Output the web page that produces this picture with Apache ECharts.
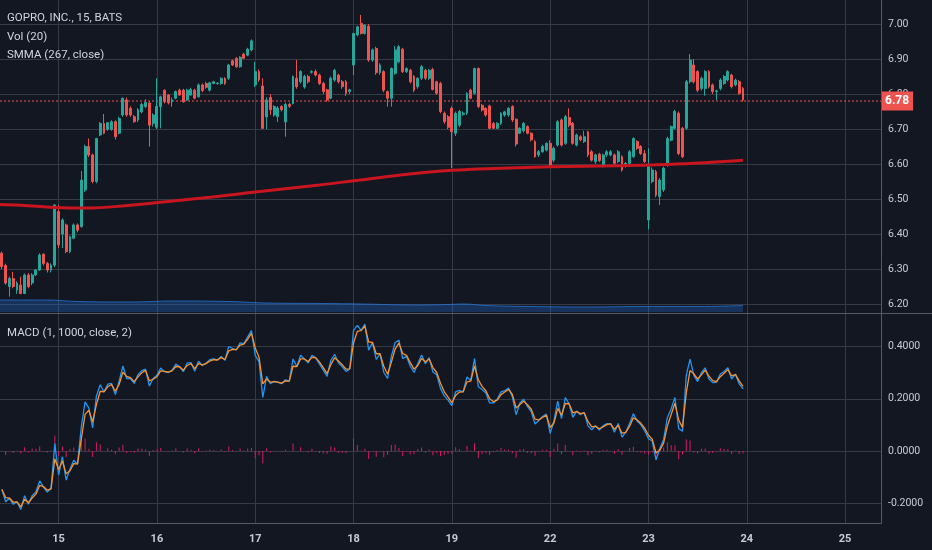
<!DOCTYPE html>
<html><head><meta charset="utf-8">
<script src="https://cdn.jsdelivr.net/npm/echarts@6/dist/echarts.min.js"></script>
<style>html,body{margin:0;padding:0;background:#131722;}#c{width:932px;height:550px;}</style>
</head><body><div id="c"></div>
<script>
// ---------- data ----------
const dayLabels  = ['14','15','16','17','18','19','22','23','24','25'];
const barsPerDay = [15, 26, 26, 26, 26, 26, 26, 26, 26, 10];   // 15-minute bars (24, 25 = empty future)

// [open, close, low, high]
const ohlc = [
  // 14
  [6.345,6.307,6.300,6.350],[6.310,6.260,6.255,6.315],[6.250,6.273,6.221,6.278],[6.273,6.250,6.245,6.292],
  [6.240,6.260,6.229,6.265],[6.254,6.230,6.228,6.278],[6.230,6.283,6.228,6.287],[6.283,6.250,6.245,6.288],
  [6.260,6.283,6.254,6.288],[6.283,6.297,6.280,6.300],[6.297,6.340,6.294,6.345],[6.342,6.316,6.310,6.345],
  [6.316,6.297,6.290,6.320],[6.297,6.311,6.290,6.316],[6.311,6.483,6.305,6.485],
  // 15
  [6.464,6.369,6.360,6.483],[6.400,6.440,6.360,6.445],[6.426,6.350,6.345,6.430],[6.350,6.392,6.345,6.395],
  [6.388,6.426,6.385,6.430],[6.426,6.411,6.405,6.430],[6.421,6.554,6.418,6.580],[6.526,6.650,6.520,6.655],
  [6.650,6.626,6.620,6.673],[6.626,6.550,6.545,6.630],[6.550,6.673,6.545,6.675],[6.683,6.716,6.680,6.720],
  [6.716,6.688,6.685,6.743],[6.699,6.718,6.695,6.720],[6.699,6.721,6.695,6.725],[6.721,6.678,6.670,6.725],
  [6.688,6.730,6.685,6.735],[6.740,6.788,6.735,6.790],[6.783,6.740,6.735,6.790],[6.759,6.740,6.735,6.765],
  [6.735,6.721,6.718,6.740],[6.726,6.755,6.720,6.760],[6.749,6.770,6.745,6.775],[6.764,6.776,6.760,6.785],
  [6.774,6.711,6.650,6.780],[6.716,6.740,6.707,6.745],
  // 16
  [6.705,6.764,6.700,6.845],[6.764,6.792,6.702,6.795],[6.811,6.778,6.773,6.813],[6.797,6.775,6.770,6.800],
  [6.778,6.783,6.764,6.790],[6.788,6.807,6.785,6.810],[6.811,6.797,6.795,6.815],[6.811,6.778,6.775,6.815],
  [6.783,6.811,6.780,6.815],[6.797,6.813,6.795,6.818],[6.811,6.788,6.785,6.815],[6.792,6.826,6.790,6.830],
  [6.826,6.810,6.805,6.830],[6.830,6.819,6.815,6.835],[6.811,6.832,6.807,6.835],[6.830,6.835,6.828,6.838],
  [6.830,6.831,6.826,6.834],[6.830,6.845,6.826,6.848],[6.845,6.830,6.826,6.848],[6.845,6.883,6.840,6.886],
  [6.895,6.883,6.880,6.898],[6.902,6.878,6.875,6.905],[6.878,6.905,6.875,6.908],[6.914,6.902,6.900,6.918],
  [6.911,6.928,6.908,6.932],[6.926,6.952,6.922,6.956],
  // 17
  [6.826,6.864,6.820,6.892],[6.864,6.840,6.835,6.870],[6.823,6.702,6.700,6.845],[6.735,6.783,6.700,6.790],
  [6.790,6.755,6.740,6.800],[6.740,6.764,6.735,6.768],[6.735,6.760,6.720,6.765],[6.764,6.755,6.750,6.768],
  [6.720,6.770,6.678,6.775],[6.770,6.765,6.760,6.775],[6.773,6.850,6.770,6.853],[6.845,6.821,6.815,6.897],
  [6.835,6.864,6.830,6.868],[6.820,6.850,6.815,6.855],[6.850,6.835,6.830,6.855],[6.862,6.864,6.858,6.868],
  [6.864,6.854,6.850,6.870],[6.854,6.830,6.826,6.858],[6.830,6.807,6.800,6.835],[6.812,6.783,6.778,6.815],
  [6.788,6.845,6.785,6.850],[6.840,6.868,6.835,6.872],[6.854,6.835,6.830,6.858],[6.835,6.821,6.815,6.840],
  [6.835,6.802,6.795,6.840],[6.807,6.812,6.800,6.815],
  // 18
  [6.883,6.973,6.854,6.975],[6.969,6.992,6.965,6.995],[7.002,6.973,6.970,7.026],[6.973,6.997,6.970,7.000],
  [6.994,6.897,6.892,7.000],[6.897,6.926,6.892,6.930],[6.930,6.861,6.855,6.935],[6.861,6.883,6.855,6.888],
  [6.864,6.811,6.805,6.868],[6.807,6.788,6.764,6.810],[6.788,6.873,6.764,6.876],[6.859,6.926,6.855,6.937],
  [6.892,6.935,6.888,6.940],[6.928,6.864,6.860,6.932],[6.864,6.873,6.860,6.876],[6.868,6.835,6.830,6.872],
  [6.850,6.811,6.805,6.854],[6.821,6.845,6.815,6.848],[6.845,6.878,6.840,6.883],[6.868,6.845,6.840,6.872],
  [6.845,6.868,6.840,6.872],[6.870,6.813,6.810,6.875],[6.835,6.802,6.798,6.838],[6.830,6.750,6.745,6.835],
  [6.745,6.721,6.715,6.750],[6.735,6.705,6.700,6.740],
  // 19
  [6.759,6.692,6.588,6.765],[6.688,6.745,6.680,6.750],[6.711,6.750,6.705,6.755],[6.742,6.745,6.738,6.750],
  [6.745,6.802,6.740,6.805],[6.811,6.788,6.785,6.815],[6.802,6.873,6.798,6.875],[6.873,6.764,6.760,6.876],
  [6.768,6.754,6.750,6.772],[6.759,6.740,6.735,6.762],[6.766,6.702,6.700,6.770],[6.716,6.702,6.700,6.720],
  [6.702,6.716,6.700,6.720],[6.716,6.745,6.712,6.748],[6.740,6.749,6.735,6.752],[6.740,6.759,6.735,6.762],
  [6.764,6.726,6.720,6.768],[6.728,6.657,6.650,6.730],[6.688,6.702,6.685,6.705],[6.695,6.716,6.690,6.720],
  [6.707,6.688,6.685,6.710],[6.688,6.669,6.665,6.690],[6.664,6.621,6.618,6.668],[6.626,6.635,6.620,6.640],
  [6.635,6.650,6.632,6.655],[6.640,6.659,6.636,6.662],
  // 22
  [6.659,6.597,6.592,6.668],[6.611,6.645,6.605,6.650],[6.654,6.721,6.650,6.725],[6.726,6.654,6.650,6.730],
  [6.659,6.735,6.655,6.740],[6.733,6.711,6.705,6.759],[6.716,6.659,6.655,6.720],[6.654,6.683,6.650,6.687],
  [6.678,6.669,6.665,6.682],[6.664,6.678,6.660,6.695],[6.692,6.626,6.620,6.695],[6.635,6.611,6.607,6.640],
  [6.607,6.626,6.600,6.630],[6.628,6.610,6.605,6.632],[6.597,6.626,6.590,6.630],[6.626,6.635,6.620,6.640],
  [6.626,6.635,6.622,6.640],[6.626,6.602,6.598,6.630],[6.607,6.635,6.602,6.640],[6.621,6.583,6.578,6.625],
  [6.594,6.602,6.590,6.606],[6.602,6.635,6.598,6.640],[6.621,6.673,6.618,6.676],[6.664,6.645,6.640,6.668],
  [6.650,6.630,6.626,6.654],[6.630,6.607,6.603,6.640],
  // 23
  [6.440,6.592,6.413,6.645],[6.550,6.583,6.545,6.590],[6.578,6.511,6.505,6.583],[6.507,6.554,6.483,6.560],
  [6.526,6.588,6.520,6.592],[6.597,6.673,6.592,6.678],[6.668,6.707,6.665,6.710],[6.702,6.750,6.698,6.755],
  [6.745,6.630,6.625,6.750],[6.702,6.621,6.617,6.706],[6.702,6.835,6.698,6.840],[6.835,6.897,6.830,6.914],
  [6.883,6.835,6.830,6.900],[6.864,6.811,6.805,6.868],[6.816,6.845,6.810,6.850],[6.816,6.864,6.795,6.868],
  [6.864,6.821,6.816,6.868],[6.826,6.807,6.800,6.830],[6.807,6.809,6.783,6.812],[6.816,6.840,6.810,6.845],
  [6.830,6.850,6.826,6.854],[6.840,6.864,6.836,6.868],[6.854,6.821,6.816,6.858],[6.826,6.840,6.822,6.844],
  [6.835,6.802,6.798,6.840],[6.816,6.783,6.778,6.820]
];

const macdLine = [
  -0.148,-0.195,-0.182,-0.205,-0.195,-0.225,-0.172,-0.205,-0.172,-0.158,-0.115,-0.139,-0.158,-0.144,0.028,
  -0.093,-0.022,-0.112,-0.070,-0.036,-0.051,0.092,0.188,0.164,0.088,0.211,0.254,0.226,0.256,0.259,0.216,0.268,0.326,0.278,0.278,0.259,0.293,0.308,0.314,0.249,0.278,
  0.290,0.318,0.304,0.301,0.309,0.333,0.323,0.304,0.337,0.339,0.306,0.344,0.328,0.337,0.350,0.353,0.349,0.363,0.348,0.401,0.393,0.388,0.415,0.412,0.438,0.462,
  0.367,0.343,0.205,0.286,0.258,0.267,0.263,0.258,0.273,0.268,0.353,0.324,0.367,0.353,0.338,0.367,0.357,0.333,0.310,0.286,0.348,0.371,0.338,0.324,0.305,0.315,
  0.463,0.482,0.463,0.487,0.387,0.416,0.351,0.373,0.301,0.278,0.363,0.416,0.425,0.354,0.363,0.325,0.301,0.335,0.368,0.335,0.358,0.303,0.292,0.240,0.211,0.195,
  0.174,0.227,0.232,0.227,0.284,0.270,0.355,0.246,0.236,0.222,0.184,0.184,0.198,0.227,0.231,0.241,0.208,0.139,0.184,0.198,0.170,0.151,0.103,0.117,0.132,0.141,
  0.067,0.115,0.191,0.124,0.205,0.181,0.129,0.153,0.139,0.148,0.096,0.081,0.096,0.080,0.096,0.105,0.105,0.072,0.105,0.053,0.072,0.105,0.143,0.115,0.100,0.077,
  0.047,0.038,-0.034,0.009,0.043,0.128,0.162,0.205,0.085,0.076,0.290,0.352,0.290,0.266,0.300,0.319,0.276,0.262,0.264,0.295,0.305,0.319,0.276,0.295,0.257,0.238
];

const signalLine = [
  -0.148,-0.179,-0.181,-0.197,-0.196,-0.215,-0.186,-0.199,-0.181,-0.166,-0.132,-0.137,-0.151,-0.146,-0.030,
  -0.072,-0.039,-0.088,-0.076,-0.049,-0.050,0.045,0.140,0.156,0.111,0.178,0.229,0.227,0.246,0.255,0.229,0.255,0.302,0.286,0.281,0.266,0.284,0.300,0.309,0.269,0.275,
  0.285,0.307,0.305,0.302,0.307,0.324,0.323,0.310,0.328,0.335,0.316,0.335,0.330,0.335,0.345,0.350,0.349,0.358,0.351,0.384,0.390,0.389,0.406,0.410,0.429,0.451,
  0.395,0.360,0.257,0.276,0.264,0.266,0.264,0.260,0.269,0.268,0.325,0.324,0.353,0.353,0.343,0.359,0.358,0.341,0.320,0.297,0.331,0.358,0.345,0.331,0.314,0.315,
  0.414,0.459,0.462,0.479,0.418,0.417,0.373,0.373,0.325,0.294,0.340,0.391,0.414,0.374,0.367,0.339,0.314,0.328,0.355,0.342,0.353,0.320,0.301,0.260,0.227,0.206,
  0.185,0.213,0.226,0.227,0.265,0.268,0.326,0.273,0.248,0.231,0.200,0.189,0.195,0.216,0.226,0.236,0.217,0.165,0.178,0.191,0.177,0.160,0.122,0.119,0.128,0.137,
  0.090,0.107,0.163,0.137,0.182,0.181,0.146,0.151,0.143,0.146,0.113,0.092,0.095,0.085,0.092,0.101,0.104,0.083,0.098,0.068,0.071,0.094,0.127,0.119,0.106,0.087,
  0.060,0.045,-0.008,0.003,0.030,0.095,0.140,0.183,0.118,0.090,0.223,0.309,0.296,0.276,0.292,0.310,0.287,0.270,0.266,0.285,0.298,0.312,0.288,0.293,0.269,0.248
];

const histogram = [
  0,-0.016,-0.001,-0.008,0.001,-0.010,0.014,-0.006,0.009,0.008,0.017,-0.002,-0.007,0.002,0.058,
  -0.021,0.017,-0.024,0.006,0.013,-0.001,0.047,0.048,0.008,-0.023,0.033,0.025,-0.001,0.010,0.004,-0.013,0.013,0.024,-0.008,-0.003,-0.007,0.009,0.008,0.005,-0.020,0.003,
  0.005,0.011,-0.001,-0.001,0.002,0.009,0,-0.006,0.009,0.004,-0.010,0.009,-0.002,0.002,0.005,0.003,0,0.005,-0.003,0.017,0.003,-0.001,0.009,0.002,0.009,0.011,
  -0.028,-0.017,-0.048,0.010,-0.006,0.001,-0.001,-0.002,0.004,0,0.028,0,0.014,0,-0.005,0.008,-0.001,-0.008,-0.010,-0.011,0.017,0.013,-0.007,-0.007,-0.009,0,
  0.049,0.023,0.001,0.008,-0.031,-0.001,-0.022,0,-0.024,-0.016,0.023,0.025,0.011,-0.020,-0.004,-0.014,-0.013,0.007,0.013,-0.007,0.005,-0.017,-0.009,-0.020,-0.016,-0.011,
  -0.011,0.014,0.006,0,0.019,0.002,0.029,-0.027,-0.012,-0.009,-0.016,-0.005,0.003,0.011,0.005,0.005,-0.009,-0.026,0.006,0.007,-0.007,-0.009,-0.019,-0.002,0.004,0.004,
  -0.023,0.008,0.028,-0.013,0.023,0,-0.017,0.002,-0.004,0.002,-0.017,-0.011,0.001,-0.005,0.004,0.004,0.001,-0.011,0.007,-0.015,0.001,0.011,0.016,-0.004,-0.006,-0.010,
  -0.013,-0.007,-0.026,0.006,0.013,0.033,0.022,0.022,-0.033,-0.014,0.045,0.040,-0.006,-0.010,0.008,0.009,-0.011,-0.008,-0.002,0.010,0.007,0.007,-0.012,0.002,-0.012,-0.010
];

// SMMA (267, close): [bar index, value]
const smmaPoints = [
  [-0.5,6.484],[5,6.482],[14,6.476],[22,6.474],[34,6.482],[42,6.491],[55,6.505],[67,6.520],
  [84,6.540],[93,6.552],[105,6.568],[119,6.582],[132,6.588],[145,6.592],[163,6.595],[171,6.597],
  [183,6.602],[196,6.611]
];
// Vol (20) moving-average band: [bar index, value]
const volMaPoints = [
  [-0.5,12],[12,12],[20,10.5],[34,10],[45,11],[60,10.5],[70,9],[85,8.5],[95,8],[110,7],
  [118,7.5],[122,8],[128,6.5],[140,5.5],[155,5],[170,5.5],[185,5.5],[196,6.5]
];
const lastPrice = 6.78;
const priceRange = [6.1743, 7.0686];
const macdRange = [-0.2768, 0.5294];

// ---------- build ----------
const categories = [];
const dayStarts = new Set();
dayLabels.forEach((d, i) => {
  dayStarts.add(categories.length);
  for (let j = 0; j < barsPerDay[i]; j++) categories.push(d + '|' + j);
});
const isDayLine = (idx) => idx > 0 && dayStarts.has(idx);
const N = categories.length;

const BG = '#131722', GRID = '#363a45', AXIS = '#565a65', TXT = '#c8cbd3', FONT = 'Roboto';

const chart = echarts.init(document.getElementById('c'), null, {renderer: 'canvas'});
chart.setOption({
  backgroundColor: BG,
  animation: false,
  grid: [
    {left: 0, right: 51, top: 0, height: 313},
    {left: 0, right: 51, top: 288, height: 24},
    {left: 0, right: 51, top: 313, height: 210}
  ],
  xAxis: [
    {type: 'category', gridIndex: 0, data: categories, axisLine: {show: false}, axisTick: {show: false},
     axisLabel: {show: false},
     splitLine: {show: true, interval: isDayLine, alignWithLabel: true, lineStyle: {color: GRID, width: 1}}},
    {type: 'value', gridIndex: 0, min: -0.5, max: N - 0.5, show: false},
    {type: 'value', gridIndex: 1, min: -0.5, max: N - 0.5, show: false},
    {type: 'category', gridIndex: 2, data: categories, axisLine: {show: false}, axisTick: {show: false},
     axisLabel: {interval: isDayLine, formatter: v => v.split('|')[0], color: TXT, fontSize: 11,
                 fontWeight: 'bold', fontFamily: FONT, margin: 11},
     splitLine: {show: true, interval: isDayLine, alignWithLabel: true, lineStyle: {color: GRID, width: 1}}}
  ],
  yAxis: [
    {type: 'value', gridIndex: 0, position: 'right', min: priceRange[0], max: priceRange[1],
     minInterval: 0.1, maxInterval: 0.1, splitNumber: 9,
     axisLine: {show: false}, axisTick: {show: false},
     axisLabel: {color: TXT, fontSize: 10.5, fontFamily: FONT, margin: 7, formatter: v => v.toFixed(2),
                 showMinLabel: false, showMaxLabel: false},
     splitLine: {show: true, showMinLine: false, showMaxLine: false, lineStyle: {color: GRID}}},
    {type: 'value', gridIndex: 1, min: 0, max: 24, show: false},
    {type: 'value', gridIndex: 2, position: 'right', min: macdRange[0], max: macdRange[1],
     minInterval: 0.2, maxInterval: 0.2, splitNumber: 4,
     axisLine: {show: false}, axisTick: {show: false},
     axisLabel: {color: TXT, fontSize: 10.5, fontFamily: FONT, margin: 7, formatter: v => v.toFixed(4),
                 showMinLabel: false, showMaxLabel: false},
     splitLine: {show: true, showMinLine: false, showMaxLine: false, lineStyle: {color: GRID}}}
  ],
  series: [
    {type: 'line', xAxisIndex: 2, yAxisIndex: 1, data: volMaPoints, smooth: 0.4, symbol: 'none',
     lineStyle: {color: 'rgba(41,120,220,0.75)', width: 1}, areaStyle: {color: 'rgba(33,120,230,0.42)'}},
    // last-price line with its scale label
    {type: 'line', xAxisIndex: 1, yAxisIndex: 0, data: [[-0.5, lastPrice], [N - 0.5, lastPrice]],
     symbol: 'none', silent: true, z: 1, clip: false,
     lineStyle: {color: '#f0524f', type: [2, 2], width: 1},
     endLabel: {show: true, distance: 0, formatter: () => lastPrice.toFixed(2),
                color: '#ffffff', backgroundColor: '#ef5350', padding: [4, 4, 3, 4],
                fontSize: 12, fontWeight: 'bold', fontFamily: FONT}},
    {type: 'candlestick', xAxisIndex: 0, yAxisIndex: 0, data: ohlc, barWidth: 2.4, z: 2,
     itemStyle: {color: '#26a69a', color0: '#ef5350', borderColor: '#26a69a', borderColor0: '#ef5350', borderWidth: 1}},
    {type: 'line', xAxisIndex: 1, yAxisIndex: 0, data: smmaPoints, smooth: 0.4, symbol: 'none', z: 3,
     lineStyle: {color: '#c8151f', width: 3}},
    {type: 'bar', xAxisIndex: 3, yAxisIndex: 2, data: histogram, barWidth: 1,
     itemStyle: {color: '#d81b60'}},
    {type: 'line', xAxisIndex: 3, yAxisIndex: 2, data: macdLine, symbol: 'none',
     lineStyle: {color: '#2196f3', width: 1.3}},
    {type: 'line', xAxisIndex: 3, yAxisIndex: 2, data: signalLine, symbol: 'none',
     lineStyle: {color: '#f5922f', width: 1.3}}
  ],
  graphic: [
    {type: 'line', silent: true, z: 50, shape: {x1: 0, y1: 313.5, x2: 932, y2: 313.5}, style: {stroke: AXIS, lineWidth: 1}},
    {type: 'line', silent: true, z: 50, shape: {x1: 881.5, y1: 0, x2: 881.5, y2: 523.5}, style: {stroke: AXIS, lineWidth: 1}},
    {type: 'line', silent: true, z: 50, shape: {x1: 0, y1: 523.5, x2: 881.5, y2: 523.5}, style: {stroke: AXIS, lineWidth: 1}},
    {type: 'text', silent: true, z: 60, x: 7, y: 18, style: {text: 'GOPRO, INC., 15, BATS', fill: '#d1d4dc', fontSize: 11.5, fontFamily: FONT, verticalAlign: 'middle'}},
    {type: 'text', silent: true, z: 60, x: 7, y: 37, style: {text: 'Vol (20)', fill: '#d1d4dc', fontSize: 11.5, fontFamily: FONT, verticalAlign: 'middle'}},
    {type: 'text', silent: true, z: 60, x: 7, y: 55.5, style: {text: 'SMMA (267, close)', fill: '#d1d4dc', fontSize: 11.5, fontFamily: FONT, verticalAlign: 'middle'}},
    {type: 'text', silent: true, z: 60, x: 7, y: 333, style: {text: 'MACD (1, 1000, close, 2)', fill: '#d1d4dc', fontSize: 11.5, fontFamily: FONT, verticalAlign: 'middle'}}
  ]
});
</script>
</body></html>
